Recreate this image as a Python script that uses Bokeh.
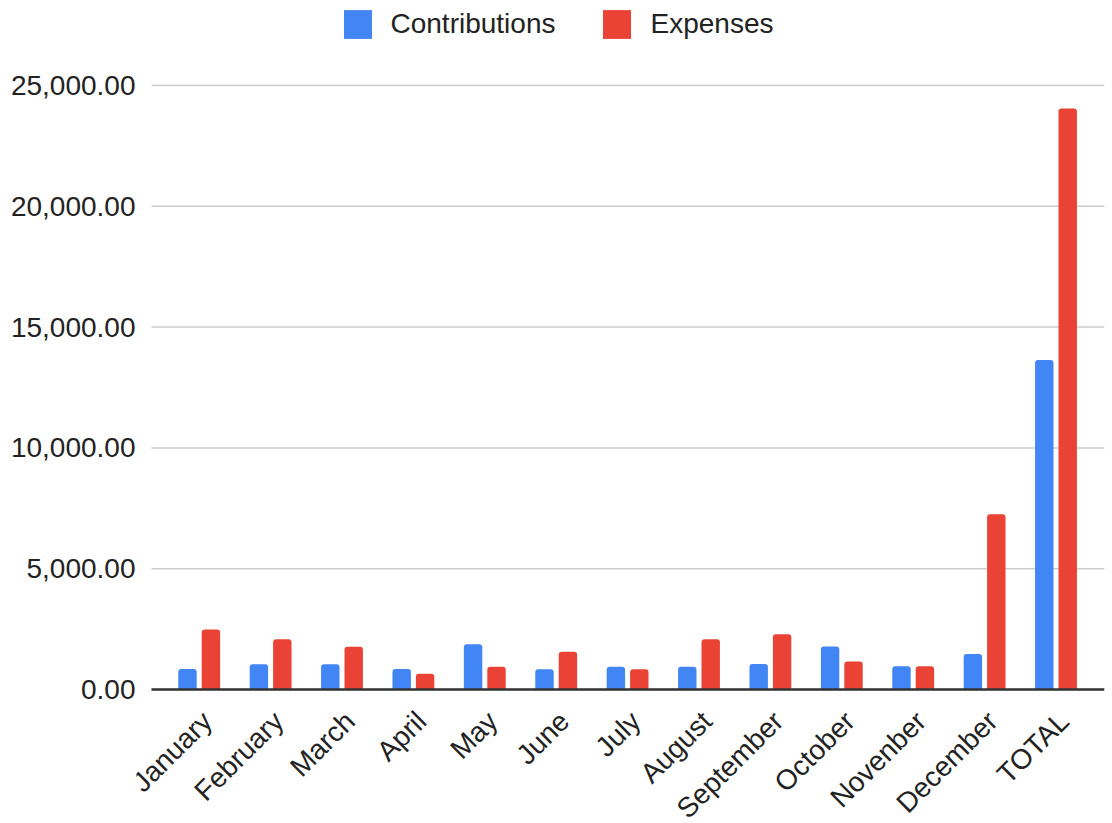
import math

from bokeh.plotting import figure
from bokeh.models import (ColumnDataSource, Range1d, Legend, LegendItem,
                          NumeralTickFormatter, FixedTicker)
from bokeh.transform import dodge
from bokeh.embed import file_html
from bokeh.resources import INLINE

# Monthly figures plus the yearly total
months = ["January", "February", "March", "April", "May", "June", "July",
          "August", "September", "October", "Novenber", "December", "TOTAL"]
contributions = [850, 1050, 1050, 850, 1870, 840, 940, 940, 1060, 1780, 960, 1470, 13640]
expenses = [2480, 2080, 1770, 650, 940, 1560, 840, 2080, 2290, 1160, 960, 7250, 24050]
y_ticks = [0, 5000, 10000, 15000, 20000, 25000]

BLUE = "#4285F4"
RED = "#EA4335"
FONT = "Liberation Sans"
TEXT = "#222222"

# Page geometry (pixels). The frame fills the full height: the legend sits in its
# top strip and the rotated month names hang below the zero line.
W, H = 1112, 823
FRAME_L, FRAME_R = 136, 1104
GRID_L = 151                 # gridlines and zero line start here
FIRST_CAT_X = 198.7          # centre of the first pair of bars
CAT_STEP = 71.4              # distance between category centres
ZERO_Y, TOP_TICK_Y = 689, 85

x_start = (FRAME_L - FIRST_CAT_X) / CAT_STEP
x_end = (FRAME_R - FIRST_CAT_X) / CAT_STEP
grid_x0 = (GRID_L - FIRST_CAT_X) / CAT_STEP
units_per_px = y_ticks[-1] / (ZERO_Y - TOP_TICK_Y)
y_start = -(H - ZERO_Y) * units_per_px
y_end = y_ticks[-1] + TOP_TICK_Y * units_per_px

pos = list(range(len(months)))   # category slots
source = ColumnDataSource(dict(pos=pos, month=months,
                               contributions=contributions, expenses=expenses))

p = figure(
    width=W, height=H,
    x_range=Range1d(x_start, x_end),
    y_range=Range1d(y_start, y_end),
    x_axis_location=None,
    output_backend="svg", toolbar_location=None,
    min_border_left=FRAME_L, min_border_right=W - FRAME_R, min_border_top=0, min_border_bottom=0,
)
p.outline_line_color = None
p.background_fill_color = "white"
p.border_fill_color = "white"
p.xgrid.grid_line_color = None
p.ygrid.grid_line_color = None

# light horizontal gridlines
p.segment(x0=grid_x0, x1=x_end, y0=y_ticks, y1=y_ticks,
          line_color="#cccccc", line_width=1.5, level="underlay")

# paired bars per category
bar_w = 0.258
offset = 0.164
blue_r = p.vbar(x=dodge("pos", -offset), top="contributions", width=bar_w, source=source,
                fill_color=BLUE, line_color=None, border_radius=(3, 3, 0, 0))
red_r = p.vbar(x=dodge("pos", offset), top="expenses", width=bar_w, source=source,
               fill_color=RED, line_color=None, border_radius=(3, 3, 0, 0))

# dark zero line over the bar feet
p.segment(x0=grid_x0, x1=x_end, y0=0, y1=0, line_color="#333333", line_width=2.5)

# value axis: labels only
ticker = FixedTicker(ticks=y_ticks)
p.yaxis.ticker = ticker
p.yaxis.formatter = NumeralTickFormatter(format="0,0.00")
p.yaxis.axis_line_color = None
p.yaxis.major_tick_line_color = None
p.yaxis.minor_tick_line_color = None
p.yaxis.major_tick_out = 0
p.yaxis.major_tick_in = 0
p.yaxis.major_label_text_font = FONT
p.yaxis.major_label_text_font_size = "28px"
p.yaxis.major_label_text_color = TEXT
p.yaxis.major_label_standoff = 1

# month names, rotated 45 degrees and ending just under each pair of bars
p.text(x="pos", y=0, text="month", source=source, angle=math.pi / 4,
       x_offset=8, y_offset=27, text_align="right", text_baseline="middle",
       text_font={"value": FONT}, text_font_size="28px", text_color=TEXT)

legend = Legend(
    items=[LegendItem(label="Contributions", renderers=[blue_r]),
           LegendItem(label="Expenses", renderers=[red_r])],
    orientation="horizontal",
    location=(339.5 - FRAME_L, H - 41.5),
    label_text_font=FONT, label_text_font_size="28px", label_text_color=TEXT,
    glyph_width=35, glyph_height=36, label_standoff=16, spacing=44,
    padding=0, margin=0, border_line_color=None, background_fill_alpha=0,
)
p.add_layout(legend, "center")

with open("out.html", "w") as f:
    f.write(file_html(p, INLINE))
